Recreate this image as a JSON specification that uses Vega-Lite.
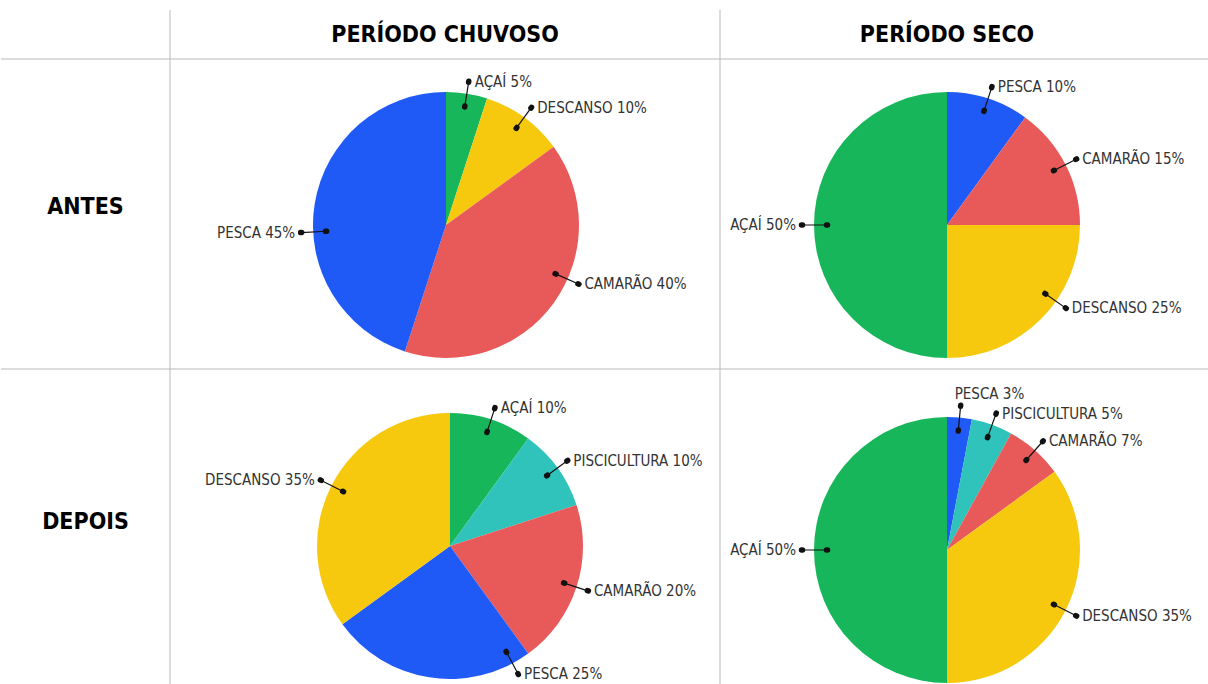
{
"$schema": "https://vega.github.io/schema/vega-lite/v6.json",
"padding": {"top": 9, "left": 0, "right": 0, "bottom": 0},
"background": "white",
"config": {"view": {"stroke": null}, "concat": {"spacing": 0}},
"datasets": {
 "um": [{}],
 "pizzas": [
  {"linha": "ANTES", "periodo": "CHUVOSO", "atividade": "AÇAÍ", "pct": 5, "rotulo": "AÇAÍ 5%"},
  {"linha": "ANTES", "periodo": "CHUVOSO", "atividade": "DESCANSO", "pct": 10, "rotulo": "DESCANSO 10%"},
  {"linha": "ANTES", "periodo": "CHUVOSO", "atividade": "CAMARÃO", "pct": 40, "rotulo": "CAMARÃO 40%"},
  {"linha": "ANTES", "periodo": "CHUVOSO", "atividade": "PESCA", "pct": 45, "rotulo": "PESCA 45%"},
  {"linha": "ANTES", "periodo": "SECO", "atividade": "PESCA", "pct": 10, "rotulo": "PESCA 10%"},
  {"linha": "ANTES", "periodo": "SECO", "atividade": "CAMARÃO", "pct": 15, "rotulo": "CAMARÃO 15%"},
  {"linha": "ANTES", "periodo": "SECO", "atividade": "DESCANSO", "pct": 25, "rotulo": "DESCANSO 25%"},
  {"linha": "ANTES", "periodo": "SECO", "atividade": "AÇAÍ", "pct": 50, "rotulo": "AÇAÍ 50%"},
  {"linha": "DEPOIS", "periodo": "CHUVOSO", "atividade": "AÇAÍ", "pct": 10, "rotulo": "AÇAÍ 10%"},
  {"linha": "DEPOIS", "periodo": "CHUVOSO", "atividade": "PISCICULTURA", "pct": 10, "rotulo": "PISCICULTURA 10%"},
  {"linha": "DEPOIS", "periodo": "CHUVOSO", "atividade": "CAMARÃO", "pct": 20, "rotulo": "CAMARÃO 20%"},
  {"linha": "DEPOIS", "periodo": "CHUVOSO", "atividade": "PESCA", "pct": 25, "rotulo": "PESCA 25%"},
  {"linha": "DEPOIS", "periodo": "CHUVOSO", "atividade": "DESCANSO", "pct": 35, "rotulo": "DESCANSO 35%"},
  {"linha": "DEPOIS", "periodo": "SECO", "atividade": "PESCA", "pct": 3, "rotulo": "PESCA 3%"},
  {"linha": "DEPOIS", "periodo": "SECO", "atividade": "PISCICULTURA", "pct": 5, "rotulo": "PISCICULTURA 5%"},
  {"linha": "DEPOIS", "periodo": "SECO", "atividade": "CAMARÃO", "pct": 7, "rotulo": "CAMARÃO 7%"},
  {"linha": "DEPOIS", "periodo": "SECO", "atividade": "DESCANSO", "pct": 35, "rotulo": "DESCANSO 35%"},
  {"linha": "DEPOIS", "periodo": "SECO", "atividade": "AÇAÍ", "pct": 50, "rotulo": "AÇAÍ 50%"}
 ]
},
"columns": 4,
"spacing": 0,
"bounds": "flush",
"concat": [
  {"width": 169, "height": 49, "data": {"name": "um"}, "mark": {"type": "text", "text": ""}, "encoding": {}},
  {"width": 550, "height": 49, "data": {"name": "um"}, "layer": [
    {"mark": {"type": "rule", "color": "#b9b9b9", "strokeWidth": 1}, "encoding": {"x": {"datum": 0, "scale": {"domain": [0, 1]}, "axis": null}, "y": {"datum": 0, "scale": {"domain": [0, 1]}, "axis": null}, "y2": {"datum": 1}}},
    {"mark": {"type": "text", "text": "PERÍODO CHUVOSO", "font": "DejaVu Sans Condensed", "fontSize": 23, "fontWeight": "bold", "color": "#000000"}, "encoding": {}}
  ]},
  {"width": 454, "height": 49, "data": {"name": "um"}, "layer": [
    {"mark": {"type": "rule", "color": "#b9b9b9", "strokeWidth": 1}, "encoding": {"x": {"datum": 0, "scale": {"domain": [0, 1]}, "axis": null}, "y": {"datum": 0, "scale": {"domain": [0, 1]}, "axis": null}, "y2": {"datum": 1}}},
    {"mark": {"type": "text", "text": "PERÍODO SECO", "font": "DejaVu Sans Condensed", "fontSize": 23, "fontWeight": "bold", "color": "#000000"}, "encoding": {}}
  ]},
  {"width": 35, "height": 49, "data": {"name": "um"}, "mark": {"type": "text", "text": ""}, "encoding": {}},

  {"width": 169, "height": 310, "data": {"name": "um"}, "layer": [
    {"mark": {"type": "rule", "color": "#b9b9b9", "strokeWidth": 1}, "encoding": {"x": {"datum": 0, "scale": {"domain": [0, 1]}, "axis": null}, "x2": {"datum": 1}, "y": {"datum": 1, "scale": {"domain": [0, 1]}, "axis": null}}},
    {"mark": {"type": "text", "text": "ANTES", "font": "DejaVu Sans Condensed", "fontSize": 23, "fontWeight": "bold", "color": "#000000", "dy": -7}, "encoding": {}}
  ]},
  {"width": 550, "height": 310, "layer": [
    {"data": {"name": "um"}, "layer": [
      {"mark": {"type": "rule", "color": "#b9b9b9", "strokeWidth": 1}, "encoding": {"x": {"datum": 0, "scale": {"domain": [0, 1]}, "axis": null}, "x2": {"datum": 1}, "y": {"datum": 1, "scale": {"domain": [0, 1]}, "axis": null}}},
      {"mark": {"type": "rule", "color": "#b9b9b9", "strokeWidth": 1}, "encoding": {"x": {"datum": 0, "scale": {"domain": [0, 1]}, "axis": null}, "y": {"datum": 0, "scale": {"domain": [0, 1]}, "axis": null}, "y2": {"datum": 1}}}
    ]},
    {"data": {"name": "pizzas"},
     "transform": [{"filter": "datum.linha === 'ANTES' && datum.periodo === 'CHUVOSO'"}],
     "encoding": {
       "theta": {"field": "pct", "type": "quantitative", "stack": true},
       "order": {"field": "pct", "type": "quantitative", "sort": "ascending"},
       "detail": {"field": "atividade", "type": "nominal"},
       "x": {"datum": 0.5018, "scale": {"domain": [0, 1]}, "axis": null},
       "y": {"datum": 0.4645, "scale": {"domain": [0, 1]}, "axis": null}
     },
     "layer": [
       {"mark": {"type": "arc", "outerRadius": 133}, "encoding": {"color": {"field": "atividade", "type": "nominal", "scale": {"domain": ["PESCA", "AÇAÍ", "DESCANSO", "CAMARÃO", "PISCICULTURA"], "range": ["#1f59f6", "#17b65b", "#f6c90f", "#e85a59", "#2fc3bb"]}, "legend": null}}},
       {"mark": {"type": "arc", "innerRadius": 120, "outerRadius": 145, "padAngle": 3, "filled": false, "stroke": "#111111", "strokeWidth": 1.2}, "encoding": {"strokeOpacity": {"condition": {"test": "indexof(['CAMARÃO','PESCA'], datum.atividade) >= 0", "value": 0}, "value": 1}}},
       {"mark": {"type": "arc", "innerRadius": 119.5, "outerRadius": 120.5, "padAngle": 3, "filled": false, "stroke": "#111111", "strokeWidth": 5.5, "strokeJoin": "round", "strokeCap": "round"}, "encoding": {"strokeOpacity": {"condition": {"test": "indexof(['CAMARÃO','PESCA'], datum.atividade) >= 0", "value": 0}, "value": 1}}},
       {"mark": {"type": "arc", "innerRadius": 144.5, "outerRadius": 145.5, "padAngle": 3, "filled": false, "stroke": "#111111", "strokeWidth": 5.5, "strokeJoin": "round", "strokeCap": "round"}, "encoding": {"strokeOpacity": {"condition": {"test": "indexof(['CAMARÃO','PESCA'], datum.atividade) >= 0", "value": 0}, "value": 1}}},
       {"mark": {"type": "arc", "innerRadius": 120, "outerRadius": 145, "padAngle": 3, "filled": false, "stroke": "#111111", "strokeWidth": 1.2, "thetaOffset": -0.209, "theta2Offset": -0.209}, "encoding": {"strokeOpacity": {"condition": {"test": "indexof(['CAMARÃO','PESCA'], datum.atividade) >= 0", "value": 1}, "value": 0}}},
       {"mark": {"type": "arc", "innerRadius": 119.5, "outerRadius": 120.5, "padAngle": 3, "filled": false, "stroke": "#111111", "strokeWidth": 5.5, "strokeJoin": "round", "strokeCap": "round", "thetaOffset": -0.209, "theta2Offset": -0.209}, "encoding": {"strokeOpacity": {"condition": {"test": "indexof(['CAMARÃO','PESCA'], datum.atividade) >= 0", "value": 1}, "value": 0}}},
       {"mark": {"type": "arc", "innerRadius": 144.5, "outerRadius": 145.5, "padAngle": 3, "filled": false, "stroke": "#111111", "strokeWidth": 5.5, "strokeJoin": "round", "strokeCap": "round", "thetaOffset": -0.209, "theta2Offset": -0.209}, "encoding": {"strokeOpacity": {"condition": {"test": "indexof(['CAMARÃO','PESCA'], datum.atividade) >= 0", "value": 1}, "value": 0}}},
       {"mark": {"type": "text", "radius": 145, "align": "left", "baseline": "middle", "dx": 6, "font": "DejaVu Sans Condensed", "fontSize": 15, "color": "#333333"}, "encoding": {"text": {"condition": {"test": "indexof(['AÇAÍ','DESCANSO'], datum.atividade) >= 0", "field": "rotulo", "type": "nominal"}, "value": ""}}},
       {"mark": {"type": "text", "radius": 145, "align": "left", "baseline": "middle", "dx": 6, "thetaOffset": -0.209, "font": "DejaVu Sans Condensed", "fontSize": 15, "color": "#333333"}, "encoding": {"text": {"condition": {"test": "datum.atividade === 'CAMARÃO'", "field": "rotulo", "type": "nominal"}, "value": ""}}},
       {"mark": {"type": "text", "radius": 145, "align": "right", "baseline": "middle", "dx": -6, "thetaOffset": -0.209, "font": "DejaVu Sans Condensed", "fontSize": 15, "color": "#333333"}, "encoding": {"text": {"condition": {"test": "datum.atividade === 'PESCA'", "field": "rotulo", "type": "nominal"}, "value": ""}}}
     ]
    }
  ]},
  {"width": 454, "height": 310, "layer": [
    {"data": {"name": "um"}, "layer": [
      {"mark": {"type": "rule", "color": "#b9b9b9", "strokeWidth": 1}, "encoding": {"x": {"datum": 0, "scale": {"domain": [0, 1]}, "axis": null}, "x2": {"datum": 1}, "y": {"datum": 1, "scale": {"domain": [0, 1]}, "axis": null}}},
      {"mark": {"type": "rule", "color": "#b9b9b9", "strokeWidth": 1}, "encoding": {"x": {"datum": 0, "scale": {"domain": [0, 1]}, "axis": null}, "y": {"datum": 0, "scale": {"domain": [0, 1]}, "axis": null}, "y2": {"datum": 1}}}
    ]},
    {"data": {"name": "pizzas"},
     "transform": [{"filter": "datum.linha === 'ANTES' && datum.periodo === 'SECO'"}],
     "encoding": {
       "theta": {"field": "pct", "type": "quantitative", "stack": true},
       "order": {"field": "pct", "type": "quantitative", "sort": "ascending"},
       "detail": {"field": "atividade", "type": "nominal"},
       "y": {"datum": 0.4645, "scale": {"domain": [0, 1]}, "axis": null}
     },
     "layer": [
       {"mark": {"type": "arc", "outerRadius": 133}, "encoding": {"color": {"field": "atividade", "type": "nominal", "scale": {"domain": ["PESCA", "AÇAÍ", "DESCANSO", "CAMARÃO", "PISCICULTURA"], "range": ["#1f59f6", "#17b65b", "#f6c90f", "#e85a59", "#2fc3bb"]}, "legend": null}}},
       {"mark": {"type": "arc", "innerRadius": 120, "outerRadius": 145, "padAngle": 3, "filled": false, "stroke": "#111111", "strokeWidth": 1.2}, "encoding": {"strokeOpacity": {"condition": {"test": "datum.atividade === 'DESCANSO'", "value": 0}, "value": 1}}},
       {"mark": {"type": "arc", "innerRadius": 119.5, "outerRadius": 120.5, "padAngle": 3, "filled": false, "stroke": "#111111", "strokeWidth": 5.5, "strokeJoin": "round", "strokeCap": "round"}, "encoding": {"strokeOpacity": {"condition": {"test": "datum.atividade === 'DESCANSO'", "value": 0}, "value": 1}}},
       {"mark": {"type": "arc", "innerRadius": 144.5, "outerRadius": 145.5, "padAngle": 3, "filled": false, "stroke": "#111111", "strokeWidth": 5.5, "strokeJoin": "round", "strokeCap": "round"}, "encoding": {"strokeOpacity": {"condition": {"test": "datum.atividade === 'DESCANSO'", "value": 0}, "value": 1}}},
       {"mark": {"type": "arc", "innerRadius": 120, "outerRadius": 145, "padAngle": 3, "filled": false, "stroke": "#111111", "strokeWidth": 1.2, "thetaOffset": -0.175, "theta2Offset": -0.175}, "encoding": {"strokeOpacity": {"condition": {"test": "datum.atividade === 'DESCANSO'", "value": 1}, "value": 0}}},
       {"mark": {"type": "arc", "innerRadius": 119.5, "outerRadius": 120.5, "padAngle": 3, "filled": false, "stroke": "#111111", "strokeWidth": 5.5, "strokeJoin": "round", "strokeCap": "round", "thetaOffset": -0.175, "theta2Offset": -0.175}, "encoding": {"strokeOpacity": {"condition": {"test": "datum.atividade === 'DESCANSO'", "value": 1}, "value": 0}}},
       {"mark": {"type": "arc", "innerRadius": 144.5, "outerRadius": 145.5, "padAngle": 3, "filled": false, "stroke": "#111111", "strokeWidth": 5.5, "strokeJoin": "round", "strokeCap": "round", "thetaOffset": -0.175, "theta2Offset": -0.175}, "encoding": {"strokeOpacity": {"condition": {"test": "datum.atividade === 'DESCANSO'", "value": 1}, "value": 0}}},
       {"mark": {"type": "text", "radius": 145, "align": "left", "baseline": "middle", "dx": 6, "font": "DejaVu Sans Condensed", "fontSize": 15, "color": "#333333"}, "encoding": {"text": {"condition": {"test": "indexof(['PESCA','CAMARÃO'], datum.atividade) >= 0", "field": "rotulo", "type": "nominal"}, "value": ""}}},
       {"mark": {"type": "text", "radius": 145, "align": "right", "baseline": "middle", "dx": -6, "font": "DejaVu Sans Condensed", "fontSize": 15, "color": "#333333"}, "encoding": {"text": {"condition": {"test": "datum.atividade === 'AÇAÍ'", "field": "rotulo", "type": "nominal"}, "value": ""}}},
       {"mark": {"type": "text", "radius": 145, "align": "left", "baseline": "middle", "dx": 6, "thetaOffset": -0.175, "font": "DejaVu Sans Condensed", "fontSize": 15, "color": "#333333"}, "encoding": {"text": {"condition": {"test": "datum.atividade === 'DESCANSO'", "field": "rotulo", "type": "nominal"}, "value": ""}}}
     ]
    }
  ]},
  {"width": 35, "height": 310, "data": {"name": "um"}, "mark": {"type": "rule", "color": "#b9b9b9", "strokeWidth": 1}, "encoding": {"x": {"datum": 0, "scale": {"domain": [0, 1]}, "axis": null}, "x2": {"datum": 1}, "y": {"datum": 1, "scale": {"domain": [0, 1]}, "axis": null}}},

  {"width": 169, "height": 315, "data": {"name": "um"}, "layer": [
    {"mark": {"type": "rule", "color": "#b9b9b9", "strokeWidth": 1}, "encoding": {"x": {"datum": 0, "scale": {"domain": [0, 1]}, "axis": null}, "x2": {"datum": 1}, "y": {"datum": 1, "scale": {"domain": [0, 1]}, "axis": null}}},
    {"mark": {"type": "text", "text": "DEPOIS", "font": "DejaVu Sans Condensed", "fontSize": 23, "fontWeight": "bold", "color": "#000000", "dy": -5}, "encoding": {}}
  ]},
  {"width": 550, "height": 315, "layer": [
    {"data": {"name": "um"}, "layer": [
      {"mark": {"type": "rule", "color": "#b9b9b9", "strokeWidth": 1}, "encoding": {"x": {"datum": 0, "scale": {"domain": [0, 1]}, "axis": null}, "x2": {"datum": 1}, "y": {"datum": 1, "scale": {"domain": [0, 1]}, "axis": null}}},
      {"mark": {"type": "rule", "color": "#b9b9b9", "strokeWidth": 1}, "encoding": {"x": {"datum": 0, "scale": {"domain": [0, 1]}, "axis": null}, "y": {"datum": 0, "scale": {"domain": [0, 1]}, "axis": null}, "y2": {"datum": 1}}}
    ]},
    {"data": {"name": "pizzas"},
     "transform": [{"filter": "datum.linha === 'DEPOIS' && datum.periodo === 'CHUVOSO'"}],
     "encoding": {
       "theta": {"field": "pct", "type": "quantitative", "stack": true},
       "order": {"field": "pct", "type": "quantitative", "sort": "ascending"},
       "detail": {"field": "atividade", "type": "nominal"},
       "x": {"datum": 0.5091, "scale": {"domain": [0, 1]}, "axis": null},
       "y": {"datum": 0.4381, "scale": {"domain": [0, 1]}, "axis": null}
     },
     "layer": [
       {"mark": {"type": "arc", "outerRadius": 133}, "encoding": {"color": {"field": "atividade", "type": "nominal", "scale": {"domain": ["PESCA", "AÇAÍ", "DESCANSO", "CAMARÃO", "PISCICULTURA"], "range": ["#1f59f6", "#17b65b", "#f6c90f", "#e85a59", "#2fc3bb"]}, "legend": null}}},
       {"mark": {"type": "arc", "innerRadius": 120, "outerRadius": 145, "padAngle": 3, "filled": false, "stroke": "#111111", "strokeWidth": 1.2}, "encoding": {"strokeOpacity": {"condition": {"test": "datum.atividade === 'PESCA'", "value": 0}, "value": 1}}},
       {"mark": {"type": "arc", "innerRadius": 119.5, "outerRadius": 120.5, "padAngle": 3, "filled": false, "stroke": "#111111", "strokeWidth": 5.5, "strokeJoin": "round", "strokeCap": "round"}, "encoding": {"strokeOpacity": {"condition": {"test": "datum.atividade === 'PESCA'", "value": 0}, "value": 1}}},
       {"mark": {"type": "arc", "innerRadius": 144.5, "outerRadius": 145.5, "padAngle": 3, "filled": false, "stroke": "#111111", "strokeWidth": 5.5, "strokeJoin": "round", "strokeCap": "round"}, "encoding": {"strokeOpacity": {"condition": {"test": "datum.atividade === 'PESCA'", "value": 0}, "value": 1}}},
       {"mark": {"type": "arc", "innerRadius": 120, "outerRadius": 145, "padAngle": 3, "filled": false, "stroke": "#111111", "strokeWidth": 1.2, "thetaOffset": -0.646, "theta2Offset": -0.646}, "encoding": {"strokeOpacity": {"condition": {"test": "datum.atividade === 'PESCA'", "value": 1}, "value": 0}}},
       {"mark": {"type": "arc", "innerRadius": 119.5, "outerRadius": 120.5, "padAngle": 3, "filled": false, "stroke": "#111111", "strokeWidth": 5.5, "strokeJoin": "round", "strokeCap": "round", "thetaOffset": -0.646, "theta2Offset": -0.646}, "encoding": {"strokeOpacity": {"condition": {"test": "datum.atividade === 'PESCA'", "value": 1}, "value": 0}}},
       {"mark": {"type": "arc", "innerRadius": 144.5, "outerRadius": 145.5, "padAngle": 3, "filled": false, "stroke": "#111111", "strokeWidth": 5.5, "strokeJoin": "round", "strokeCap": "round", "thetaOffset": -0.646, "theta2Offset": -0.646}, "encoding": {"strokeOpacity": {"condition": {"test": "datum.atividade === 'PESCA'", "value": 1}, "value": 0}}},
       {"mark": {"type": "text", "radius": 145, "align": "left", "baseline": "middle", "dx": 6, "font": "DejaVu Sans Condensed", "fontSize": 15, "color": "#333333"}, "encoding": {"text": {"condition": {"test": "indexof(['AÇAÍ','PISCICULTURA','CAMARÃO'], datum.atividade) >= 0", "field": "rotulo", "type": "nominal"}, "value": ""}}},
       {"mark": {"type": "text", "radius": 145, "align": "right", "baseline": "middle", "dx": -6, "font": "DejaVu Sans Condensed", "fontSize": 15, "color": "#333333"}, "encoding": {"text": {"condition": {"test": "datum.atividade === 'DESCANSO'", "field": "rotulo", "type": "nominal"}, "value": ""}}},
       {"mark": {"type": "text", "radius": 145, "align": "left", "baseline": "middle", "dx": 6, "thetaOffset": -0.646, "font": "DejaVu Sans Condensed", "fontSize": 15, "color": "#333333"}, "encoding": {"text": {"condition": {"test": "datum.atividade === 'PESCA'", "field": "rotulo", "type": "nominal"}, "value": ""}}}
     ]
    }
  ]},
  {"width": 454, "height": 315, "layer": [
    {"data": {"name": "um"}, "layer": [
      {"mark": {"type": "rule", "color": "#b9b9b9", "strokeWidth": 1}, "encoding": {"x": {"datum": 0, "scale": {"domain": [0, 1]}, "axis": null}, "x2": {"datum": 1}, "y": {"datum": 1, "scale": {"domain": [0, 1]}, "axis": null}}},
      {"mark": {"type": "rule", "color": "#b9b9b9", "strokeWidth": 1}, "encoding": {"x": {"datum": 0, "scale": {"domain": [0, 1]}, "axis": null}, "y": {"datum": 0, "scale": {"domain": [0, 1]}, "axis": null}, "y2": {"datum": 1}}}
    ]},
    {"data": {"name": "pizzas"},
     "transform": [{"filter": "datum.linha === 'DEPOIS' && datum.periodo === 'SECO'"}],
     "encoding": {
       "theta": {"field": "pct", "type": "quantitative", "stack": true},
       "order": {"field": "pct", "type": "quantitative", "sort": "ascending"},
       "detail": {"field": "atividade", "type": "nominal"},
       "y": {"datum": 0.4254, "scale": {"domain": [0, 1]}, "axis": null}
     },
     "layer": [
       {"mark": {"type": "arc", "outerRadius": 133}, "encoding": {"color": {"field": "atividade", "type": "nominal", "scale": {"domain": ["PESCA", "AÇAÍ", "DESCANSO", "CAMARÃO", "PISCICULTURA"], "range": ["#1f59f6", "#17b65b", "#f6c90f", "#e85a59", "#2fc3bb"]}, "legend": null}}},
       {"mark": {"type": "arc", "innerRadius": 120, "outerRadius": 145, "padAngle": 3, "filled": false, "stroke": "#111111", "strokeWidth": 1.2}, "encoding": {}},
       {"mark": {"type": "arc", "innerRadius": 119.5, "outerRadius": 120.5, "padAngle": 3, "filled": false, "stroke": "#111111", "strokeWidth": 5.5, "strokeJoin": "round", "strokeCap": "round"}, "encoding": {}},
       {"mark": {"type": "arc", "innerRadius": 144.5, "outerRadius": 145.5, "padAngle": 3, "filled": false, "stroke": "#111111", "strokeWidth": 5.5, "strokeJoin": "round", "strokeCap": "round"}, "encoding": {}},
       {"mark": {"type": "text", "radius": 145, "align": "left", "baseline": "middle", "dx": 6, "font": "DejaVu Sans Condensed", "fontSize": 15, "color": "#333333"}, "encoding": {"text": {"condition": {"test": "indexof(['PISCICULTURA','CAMARÃO','DESCANSO'], datum.atividade) >= 0", "field": "rotulo", "type": "nominal"}, "value": ""}}},
       {"mark": {"type": "text", "radius": 145, "align": "right", "baseline": "middle", "dx": -6, "font": "DejaVu Sans Condensed", "fontSize": 15, "color": "#333333"}, "encoding": {"text": {"condition": {"test": "datum.atividade === 'AÇAÍ'", "field": "rotulo", "type": "nominal"}, "value": ""}}},
       {"mark": {"type": "text", "radius": 145, "align": "left", "baseline": "alphabetic", "dx": -6, "dy": -7, "font": "DejaVu Sans Condensed", "fontSize": 15, "color": "#333333"}, "encoding": {"text": {"condition": {"test": "datum.atividade === 'PESCA'", "field": "rotulo", "type": "nominal"}, "value": ""}}}
     ]
    }
  ]},
  {"width": 35, "height": 315, "data": {"name": "um"}, "mark": {"type": "rule", "color": "#b9b9b9", "strokeWidth": 1}, "encoding": {"x": {"datum": 0, "scale": {"domain": [0, 1]}, "axis": null}, "x2": {"datum": 1}, "y": {"datum": 1, "scale": {"domain": [0, 1]}, "axis": null}}}
]
}
